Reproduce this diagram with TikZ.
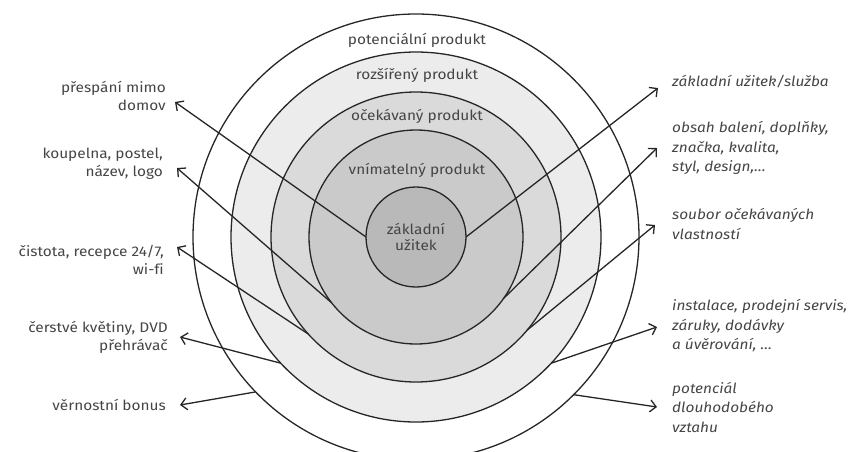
\documentclass[tikz,border=0pt]{standalone}
\usepackage{fontspec}
\setmainfont{Fira Sans}[FakeStretch=1.1,Ligatures=NoCommon]
\usetikzlibrary{arrows.meta}
\definecolor{ringA}{HTML}{B9B9B9}
\definecolor{ringB}{HTML}{CACACA}
\definecolor{ringC}{HTML}{DADADA}
\definecolor{ringD}{HTML}{ECECEC}
\definecolor{linec}{HTML}{262626}
\definecolor{textc}{HTML}{454545}
\tikzset{
  ring/.style={circle, draw=linec, line width=1.3pt, inner sep=0pt, outer sep=0pt},
  lbl/.style={text=textc, font=\fontsize{14}{18}\selectfont, inner sep=0pt},
  ltxt/.style={lbl, anchor=east, align=right},
  rtxt/.style={lbl, anchor=west, align=left, font=\fontsize{14}{19.5}\selectfont\itshape},
  arr/.style={draw=linec, line width=1.3pt, -{Straight Barb[length=6pt,width=12pt]}}
}
\begin{document}
\begin{tikzpicture}[x=1pt,y=-1pt]
\useasboundingbox (0,0) rectangle (855,451);
\clip (0,0) rectangle (855,451);
\coordinate (c) at (416,237);
\node[ring, fill=white, minimum size=446pt] (c5) at (c) {};
\node[ring, fill=ringD, minimum size=370pt] (c4) at (c) {};
\node[ring, fill=ringC, minimum size=290pt] (c3) at (c) {};
\node[ring, fill=ringB, minimum size=214pt] (c2) at (c) {};
\node[ring, fill=ringA, minimum size=100pt] (c1) at (c) {};

\node[lbl] (t5) at (417,40) {potenciální produkt};
\node[lbl] (t4) at (417,75) {rozšířený produkt};
\node[lbl] (t3) at (417,116) {očekávaný produkt};
\node[lbl] (t2) at (417,170) {vnímatelný produkt};
\node[lbl, align=center, font=\fontsize{14}{16}\selectfont] (t1) at (416,237) {základní\\užitek};

\node[ltxt] (l1) at (166,96) {přespání mimo\\domov};
\node[ltxt] (l2) at (163,164) {koupelna, postel,\\název, logo};
\node[ltxt] (l3) at (164,260) {čistota, recepce 24/7,\\wi-fi};
\node[ltxt] (l4) at (168,337) {čerstvé květiny, DVD\\přehrávač};
\node[ltxt] (l5) at (166,405) {věrnostní bonus};

\node[rtxt] (r1) at (672,82) {základní užitek/služba};
\node[rtxt] (r2) at (672,148) {obsah balení, doplňky,\\značka, kvalita,\\styl, design,\dots};
\node[rtxt] (r3) at (672,224) {soubor očekávaných\\vlastností};
\node[rtxt] (r4) at (672,326) {instalace, prodejní servis,\\záruky, dodávky\\a úvěrování, \dots};
\node[rtxt] (r5) at (672,407) {potenciál\\dlouhodobého\\vztahu};

\coordinate (a1) at (175,102);
\coordinate (a2) at (177,168);
\coordinate (a3) at (177,247);
\coordinate (a4) at (180,337);
\coordinate (a5) at (180,405);
\coordinate (b1) at (658,88);
\coordinate (b2) at (657,148);
\coordinate (b3) at (655,225);
\coordinate (b4) at (657,327);
\coordinate (b5) at (657,407);

\draw[arr] (c1.180) -- (a1);
\draw[arr] (c2.218) -- (a2);
\draw[arr] (c3.222) -- (a3);
\draw[arr] (c4.223) -- (a4);
\draw[arr] (c5.224.5) -- (a5);
\draw[arr] (c1.0) -- (b1);
\draw[arr] (c2.325) -- (b2);
\draw[arr] (c3.320) -- (b3);
\draw[arr] (c4.317) -- (b4);
\draw[arr] (c5.315) -- (b5);
\end{tikzpicture}
\end{document}
